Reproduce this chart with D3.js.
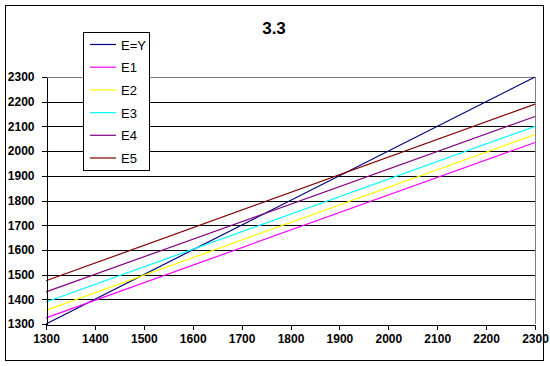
<!DOCTYPE html>
<html>
<head>
<meta charset="utf-8">
<script src="https://cdn.jsdelivr.net/npm/d3@7"></script>
<style>
body { margin: 0; background: #fff; }
text { font-family: Arial, "Liberation Sans", sans-serif; }
</style>
</head>
<body>
<div id="chart"></div>
<script>
// x positions (lines are straight between ends)
var xs = [1300, 2300];
var seriesNames = ["E=Y", "E1", "E2", "E3", "E4", "E5"];
var eY = [1300, 2300];
var e1 = [1325, 2035];
var e2 = [1355, 2067];
var e3 = [1389, 2100];
var e4 = [1430, 2140];
var e5 = [1475, 2190];
var colors = ["#000080", "#ff00ff", "#ffff00", "#00ffff", "#800080", "#800000"];
var yTicks = [1300, 1400, 1500, 1600, 1700, 1800, 1900, 2000, 2100, 2200, 2300];
var xTicks = [1300, 1400, 1500, 1600, 1700, 1800, 1900, 2000, 2100, 2200, 2300];

var allSeries = [eY, e1, e2, e3, e4, e5];

var W = 550, H = 366;
var plot = { left: 46, right: 535, top: 77, bottom: 324 };

var svg = d3.select("#chart").append("svg")
    .attr("width", W)
    .attr("height", H);

var x = d3.scaleLinear().domain([1300, 2300]).range([plot.left, plot.right]);
var y = d3.scaleLinear().domain([1300, 2300]).range([plot.bottom, plot.top]);

// gridlines
svg.append("g")
    .selectAll("line")
    .data(yTicks.slice(1, -1))
    .enter().append("line")
    .attr("x1", plot.left)
    .attr("x2", plot.right)
    .attr("y1", function (d) { return Math.round(y(d)) + 0.5; })
    .attr("y2", function (d) { return Math.round(y(d)) + 0.5; })
    .attr("stroke", "#000")
    .attr("stroke-width", 1)
    .attr("shape-rendering", "crispEdges");

// gray plot border (top and right)
svg.append("path")
    .attr("d", "M" + plot.left + "," + (Math.round(y(2300)) + 0.5) +
        "H" + (plot.right + 0.5) + "V" + plot.bottom)
    .attr("fill", "none")
    .attr("stroke", "#808080")
    .attr("shape-rendering", "crispEdges");

// series lines
var line = d3.line()
    .x(function (d, i) { return x(xs[i]); })
    .y(function (d) { return y(d); });

svg.append("g")
    .selectAll("path")
    .data(allSeries)
    .enter().append("path")
    .attr("d", line)
    .attr("fill", "none")
    .attr("stroke", function (d, i) { return colors[i]; })
    .attr("stroke-width", 1.2);

// axes
var fmt = d3.format("d");
var yAxis = svg.append("g")
    .attr("transform", "translate(" + (plot.left + 0.5) + ",0)")
    .call(d3.axisLeft(y).tickValues(yTicks).tickFormat(fmt)
        .tickSize(5).tickSizeOuter(0).tickPadding(7));
var xAxis = svg.append("g")
    .attr("transform", "translate(0," + (Math.round(plot.bottom) + 0.5) + ")")
    .call(d3.axisBottom(x).tickValues(xTicks).tickFormat(fmt)
        .tickSize(5).tickSizeOuter(0).tickPadding(5));

[yAxis, xAxis].forEach(function (g) {
    g.select(".domain").attr("stroke", "#000").attr("shape-rendering", "crispEdges");
    g.selectAll(".tick line").attr("stroke", "#000").attr("shape-rendering", "crispEdges");
    g.selectAll(".tick text")
        .attr("fill", "#000")
        .style("font-family", "Arial, 'Liberation Sans', sans-serif")
        .style("font-size", "12px")
        .style("font-weight", "bold");
});

// title
svg.append("text")
    .attr("x", 274)
    .attr("y", 34)
    .attr("text-anchor", "middle")
    .style("font-size", "17px")
    .style("font-weight", "bold")
    .text("3.3");

// legend
var legend = svg.append("g");
legend.append("rect")
    .attr("x", 83.5)
    .attr("y", 32.5)
    .attr("width", 66)
    .attr("height", 138)
    .attr("fill", "#fff")
    .attr("stroke", "#000")
    .attr("shape-rendering", "crispEdges");

var item = legend.selectAll("g.item")
    .data(seriesNames)
    .enter().append("g")
    .attr("class", "item")
    .attr("transform", function (d, i) { return "translate(0," + (44.5 + i * 22.7) + ")"; });
item.append("line")
    .attr("x1", 90)
    .attr("x2", 116)
    .attr("y1", 0)
    .attr("y2", 0)
    .attr("stroke", function (d, i) { return colors[i]; })
    .attr("stroke-width", 1.2);
item.append("text")
    .attr("x", 121)
    .attr("y", 5)
    .style("font-size", "13px")
    .text(function (d) { return d; });

// chart border
svg.append("rect")
    .attr("x", 5.5)
    .attr("y", 5.5)
    .attr("width", 538)
    .attr("height", 355)
    .attr("fill", "none")
    .attr("stroke", "#000")
    .attr("shape-rendering", "crispEdges");
</script>
</body>
</html>
